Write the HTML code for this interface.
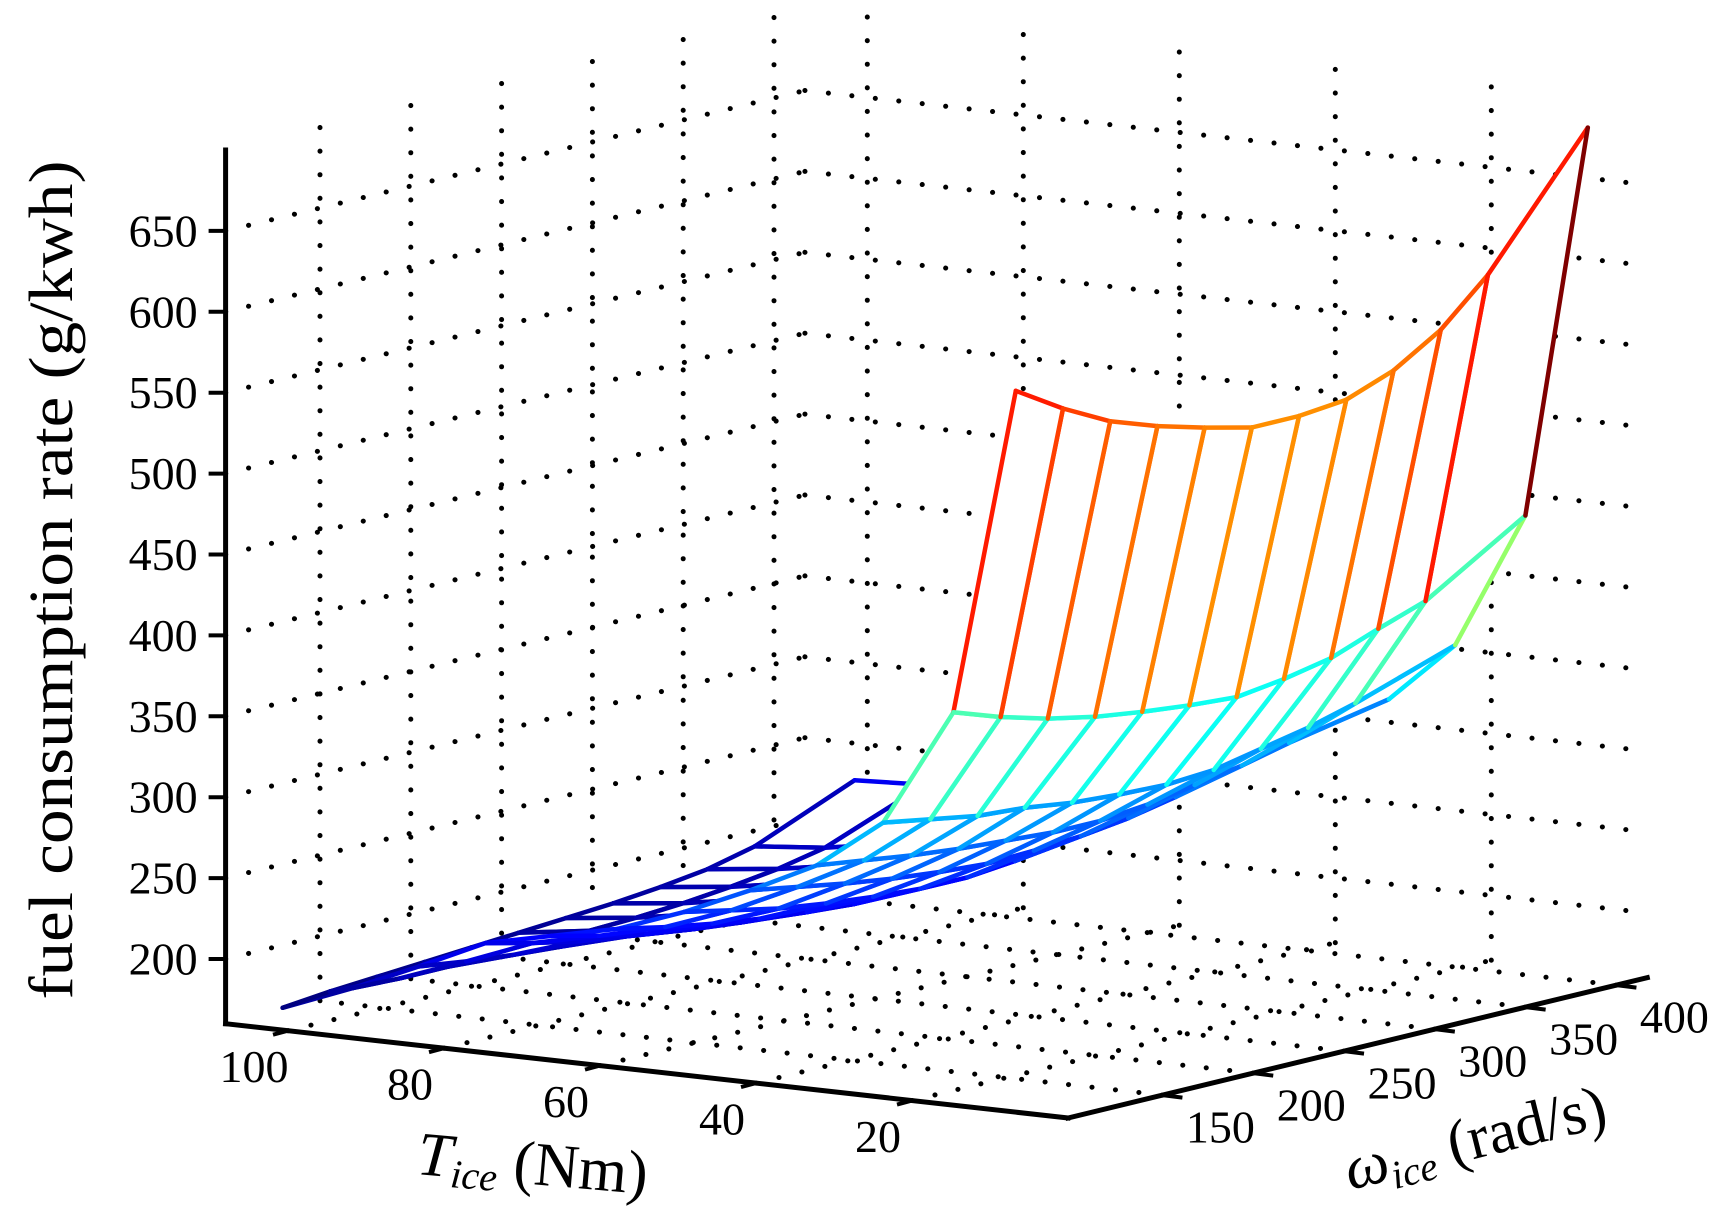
<!DOCTYPE html>
<html><head><meta charset="utf-8"><style>
html,body{margin:0;padding:0;background:#fff;}
svg{display:block;}
text{font-family:"Liberation Serif",serif;fill:#000;}
</style></head><body>
<svg id="chart" width="1731" height="1227" viewBox="0 0 1731 1227" xmlns="http://www.w3.org/2000/svg">
<g id="grid"></g>
<g id="surface"></g>
<g id="axes"></g>
<g id="labels"></g>
<text transform="translate(72,580) rotate(-90)" text-anchor="middle" font-size="62" textLength="839" lengthAdjust="spacingAndGlyphs">fuel consumption rate (g/kwh)</text>
<text transform="translate(416,1174) rotate(5)" font-size="62"><tspan font-style="italic">T</tspan><tspan font-style="italic" font-size="40" dy="10">ice</tspan><tspan dy="-10"> (Nm)</tspan></text>
<text transform="translate(1350,1190) rotate(-14)" font-size="62"><tspan font-style="italic">ω</tspan><tspan font-style="italic" font-size="40" dy="10">ice</tspan><tspan dy="-10"> (rad/s)</tspan></text>
</svg>
<script>
// ---- data ----
const omegaVals = [95,121,147,173,199,225,251,277,303,329,355,410];
const torqueVals = [6,14,23,31.5,40,48.5,57,65.5,74,82.5,91,100];
const fuelT6   = [607,589,574,564,556,549,549,552,563,581,608,684];
const fuelT14  = [404,394,386,380,376,373,371,375,381,392,402,440];
const fuelT23  = [331,326,321,319,315,313,312,314,320,326,334,355];
const fuelT31  = [300,296,292,289,287,285,285,288,293,298,305,317];
const fuelT40  = [280,275,270,266,263,261,262,264,268,274,282,295];
const fuelT48  = [262,256,250,246,243,241,241,244,248,254,262,276];
const fuelT57  = [247,241,236,232,229,227,227,229,233,238,246,260];
const fuelT65  = [238,231,225,221,218,216,216,218,221,226,233,245];
const fuelT74  = [229,222,216,212,209,207,207,209,212,216,222,236];
const fuelT82  = [210,206,203,201,200,199,200,202,205,209,215,234];
const fuelT91  = [192,191,191,191,191,192,193,195,198,202,208,232];
const fuelT100 = [175,178,180,182,184,186,188,190,193,197,204,230];
const fuelRows = [fuelT6,fuelT14,fuelT23,fuelT31,fuelT40,fuelT48,fuelT57,fuelT65,fuelT74,fuelT82,fuelT91,fuelT100];
const zTicks = [200,250,300,350,400,450,500,550,600,650];
const tTicks = [20,40,60,80,100];
const wTicks = [150,200,250,300,350,400];
const zTickLabels = ["200","250","300","350","400","450","500","550","600","650"];
const tTickLabels = ["20","40","60","80","100"];
const wTickLabels = ["150","200","250","300","350","400"];

// ---- axes / projection ----
const T_MAX=108, W_MIN=98, W_MAX=417, Z_MIN=160, Z_MAX=700;
function px(T,w,z){ return 1068 - 7.8*T + 1.816*(w-W_MIN); }
function py(T,w,z){ return 1118 - 0.873*T - 0.44*(w-W_MIN) - 1.618*(z-Z_MIN); }
const NS="http://www.w3.org/2000/svg";
function mk(tag,parent){ const e=document.createElementNS(NS,tag); parent.appendChild(e); return e; }
function line(parent,a,b,stroke,width){
  const l=mk('line',parent);
  l.setAttribute('x1',px(...a).toFixed(1)); l.setAttribute('y1',py(...a).toFixed(1));
  l.setAttribute('x2',px(...b).toFixed(1)); l.setAttribute('y2',py(...b).toFixed(1));
  l.setAttribute('stroke',stroke); l.setAttribute('stroke-width',width);
  return l;
}
function jet(v){
  let lo=Infinity,hi=-Infinity;
  fuelRows.forEach(r=>r.forEach(x=>{lo=Math.min(lo,x);hi=Math.max(hi,x);}));
  const t=Math.max(0,Math.min(1,(v-lo)/(hi-lo)));
  const c=x=>Math.round(255*Math.max(0,Math.min(1,x)));
  return `rgb(${c(1.5-Math.abs(4*t-3))},${c(1.5-Math.abs(4*t-2))},${c(1.5-Math.abs(4*t-1))})`;
}

// grid
const grid=document.getElementById('grid');
function dotted(a,b){
  const l=line(grid,a,b,'#000',5);
  l.setAttribute('stroke-dasharray','0.1 23.5');
  l.setAttribute('stroke-linecap','round');
  
  
}
wTicks.forEach(w=>{ dotted([T_MAX,w,Z_MIN],[T_MAX,w,Z_MAX]); dotted([0,w,Z_MIN],[T_MAX,w,Z_MIN]); });
tTicks.forEach(T=>{ dotted([T,W_MAX,Z_MIN],[T,W_MAX,Z_MAX]); dotted([T,W_MIN,Z_MIN],[T,W_MAX,Z_MIN]); });
zTicks.forEach(z=>{ dotted([T_MAX,W_MIN,z],[T_MAX,W_MAX,z]); dotted([T_MAX,W_MAX,z],[0,W_MAX,z]); });

// surface
const surf=document.getElementById('surface');
const quads=[];
for(let k=0;k<torqueVals.length-1;k++) for(let j=0;j<omegaVals.length-1;j++){
  const Tc=(torqueVals[k]+torqueVals[k+1])/2, wc=(omegaVals[j]+omegaVals[j+1])/2;
  quads.push({k,j,d:0.873*Tc+0.44*(wc-W_MIN)});
}
quads.sort((a,b)=>b.d-a.d);
function P(k,j){ return [torqueVals[k],omegaVals[j],fuelRows[k][j]]; }
quads.forEach(q=>{
  const {k,j}=q;
  const g=mk('g',surf);
  
  
  const pts=[P(k,j),P(k+1,j),P(k+1,j+1),P(k,j+1)];
  const poly=mk('polygon',g);
  poly.setAttribute('points',pts.map(p=>px(...p).toFixed(1)+','+py(...p).toFixed(1)).join(' '));
  poly.setAttribute('fill','#fff');
  const edges=[[P(k,j),P(k,j+1),fuelRows[k][j]],[P(k,j),P(k+1,j),fuelRows[k][j]],
               [P(k+1,j),P(k+1,j+1),fuelRows[k+1][j]],[P(k,j+1),P(k+1,j+1),fuelRows[k][j+1]]];
  edges.forEach(e=>{
    const l=line(g,e[0],e[1],jet(e[2]),4.5);
    l.setAttribute('stroke-linecap','round');
    
    
  });
});

// axes
const axes=document.getElementById('axes');
function axLine(a,b,name){ const l=line(axes,a,b,'#000',5); l.setAttribute('stroke-linecap','square');
  
   }
axLine([T_MAX,W_MIN,Z_MIN],[0,W_MIN,Z_MIN],'t-axis-line');
axLine([0,W_MIN,Z_MIN],[0,W_MAX,Z_MIN],'omega-axis-line');
axLine([T_MAX,W_MIN,Z_MIN],[T_MAX,W_MIN,Z_MAX],'z-axis-line');
const labels=document.getElementById('labels');
function tick(x1,y1,x2,y2){ const l=mk('line',axes);
  l.setAttribute('x1',x1);l.setAttribute('y1',y1);l.setAttribute('x2',x2);l.setAttribute('y2',y2);
  l.setAttribute('stroke','#000');l.setAttribute('stroke-width',4);
  
   }
function label(x,y,s,name,anchor){ const t=mk('text',labels); t.textContent=s;
  t.setAttribute('x',x.toFixed(1)); t.setAttribute('y',y.toFixed(1)); t.setAttribute('font-size','46');
  t.setAttribute('text-anchor',anchor); t.setAttribute('dominant-baseline','central');
  
   }
zTicks.forEach((z,i)=>{ const x=px(T_MAX,W_MIN,z), y=py(T_MAX,W_MIN,z);
  tick(x-17,y,x,y); label(x-28,y,zTickLabels[i],'z-tick-label','end'); });
tTicks.forEach((T,i)=>{ const x=px(T,W_MIN,Z_MIN), y=py(T,W_MIN,Z_MIN);
  tick(x-15,y+4,x,y); label(x-34,y+36,tTickLabels[i],'t-tick-label','middle'); });
wTicks.forEach((w,i)=>{ const x=px(0,w,Z_MIN), y=py(0,w,Z_MIN);
  tick(x,y,x+20,y+2.5); label(x+58,y+32,wTickLabels[i],'omega-tick-label','middle'); });
</script>
</body></html>
